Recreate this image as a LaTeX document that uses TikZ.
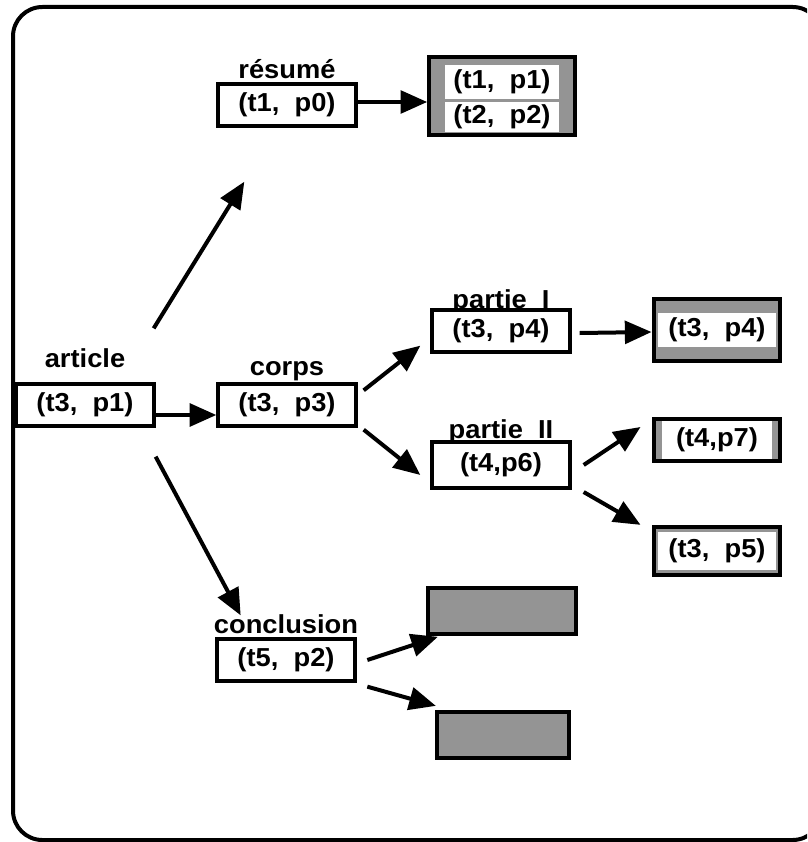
\documentclass[tikz,border=0pt]{standalone}
\usepackage{fontspec}
\setmainfont{Liberation Sans}[FakeStretch=1.05]
\usetikzlibrary{positioning,arrows.meta,backgrounds}

\begin{document}
\begin{tikzpicture}[x=0.75pt,y=-0.75pt,
  >={Triangle[length=20pt,width=17pt]},
  font=\fontsize{19.5}{23}\selectfont\bfseries,
  box/.style={draw,line width=3pt,fill=white,inner sep=0pt,
    minimum width=103pt,minimum height=31pt},
  lbl/.style={anchor=base,inner sep=0pt},
  arr/.style={->,line width=3pt},
  outbox/.style={draw,line width=3.2pt,fill=black!42,inner sep=0pt},
  inbox/.style={fill=white,inner sep=0pt}
  ]

  \useasboundingbox (0,0) rectangle (807,842);
  \clip (0,0) rectangle (807,842);

  % frame
  \draw[line width=3pt,rounded corners=22pt] (13,7) rectangle (822,840);

  % tree boxes
  \node[box] (article) at (85,405) {(t3,\ \ p1)};
  \node[box] (corps) at (287,405) {(t3,\ \ p3)};
  \node[box] (resume) at (287,105) {(t1,\ \ p0)};
  \node[box] (partieI) at (501,331) {(t3,\ \ p4)};
  \node[box,minimum height=34.5pt] (partieII) at (501,465) {(t4,p6)};
  \node[box,minimum width=104pt] (conclusion) at (286,660) {(t5,\ \ p2)};

  % labels
  \begin{pgfonlayer}{background}
    \node[lbl] (articlelbl) at ([yshift=11pt]article.north) {article};
    \node[lbl] (corpslbl) at ([yshift=5pt]corps.north) {corps};
    \node[lbl] (resumelbl) at ([yshift=3pt]resume.north) {résumé};
    \node[lbl] (partieIlbl) at ([yshift=0pt]partieI.north) {partie\ \ I};
    \node[lbl] (partieIIlbl) at ([yshift=1pt]partieII.north) {partie\ \ II};
    \node[lbl] (conclusionlbl) at ([yshift=3pt]conclusion.north) {conclusion};
  \end{pgfonlayer}

  % leaves
  \node[outbox,minimum width=109pt,minimum height=58.5pt] (resout) at (502,96) {};
  \node[inbox,minimum width=86pt,minimum height=26pt] (resoutA) at (502,82) {(t1,\ \ p1)};
  \node[inbox,minimum width=86pt,minimum height=22pt] (resoutB) at (502,117) {(t2,\ \ p2)};

  \node[outbox,minimum width=95pt,minimum height=46pt] (leafA) at (717,330) {};
  \node[inbox,minimum width=89pt,minimum height=26pt] (leafAtxt) at (leafA) {(t3,\ \ p4)};
  \node[outbox,minimum width=95pt,minimum height=31.5pt] (leafB) at (717,440) {};
  \node[inbox,minimum width=82pt,minimum height=28.5pt] (leafBtxt) at (leafB) {(t4,p7)};
  \node[outbox,minimum width=95pt,minimum height=36pt] (leafC) at (717,551) {};
  \node[inbox,minimum width=89pt,minimum height=28.5pt] (leafCtxt) at (leafC) {(t3,\ \ p5)};

  \node[outbox,minimum width=111pt,minimum height=34pt] (emptyA) at (502,611) {};
  \node[outbox,minimum width=99pt,minimum height=34.5pt] (emptyB) at (503,735) {};

  % arrows
  \draw[arr] ([shift={(-2,-54)}]article.north east) -- ([shift={(28,54)}]resume.south west);
  \draw[arr] ([shift={(0,29)}]article.south east) -- ([shift={(26,-22)}]conclusion.north west);
  \draw[arr] ([shift={(0,10)}]article.east) -- ([shift={(0,10)}]corps.west);
  \draw[arr] ([shift={(0,-3)}]resume.east) -- ([shift={(0,6)}]resout.west);
  \draw[arr] ([shift={(6,8)}]corps.north east) -- ([shift={(-10,-8)}]partieI.south west);
  \draw[arr] ([shift={(6,2)}]corps.south east) -- ([shift={(-10,10)}]partieII.west);
  \draw[arr] ([shift={(8,2)}]partieI.east) -- ([shift={(0,2)}]leafA.west);
  \draw[arr] ([shift={(12,0)}]partieII.east) -- ([shift={(-11,-13)}]leafB.west);
  \draw[arr] ([shift={(12,2)}]partieII.south east) -- ([shift={(-11,0)}]leafC.north west);
  \draw[arr] ([shift={(10,0)}]conclusion.east) -- ([shift={(12,1)}]emptyA.south west);
  \draw[arr] ([shift={(10,4)}]conclusion.south east) -- ([shift={(1,-4)}]emptyB.north west);
\end{tikzpicture}
\end{document}
